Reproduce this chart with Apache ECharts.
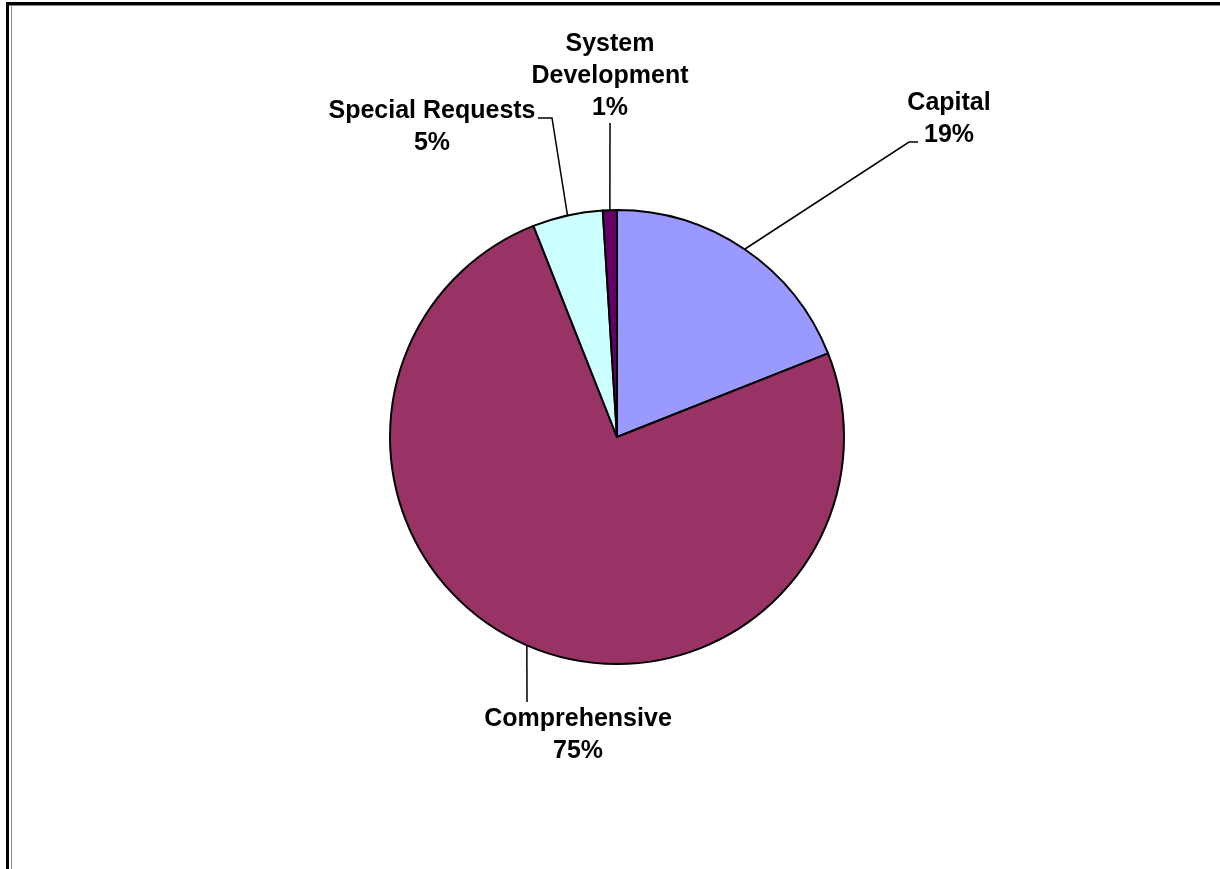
<!DOCTYPE html>
<html>
<head>
<meta charset="utf-8">
<script src="https://cdn.jsdelivr.net/npm/echarts@6/dist/echarts.min.js"></script>
<style>
html,body{margin:0;padding:0;background:#fff;}
#chart{width:1220px;height:869px;}
</style>
</head>
<body>
<div id="chart"></div>
<script>
// ---- data ----
const categories = ['Capital', 'Comprehensive', 'Special Requests', 'System Development'];
const labelNames = ['Capital', 'Comprehensive', 'Special Requests', 'System\nDevelopment'];
const values = [19, 75, 5, 1];
const colors = ['#9999FF', '#993366', '#CCFFFF', '#660066'];

// ---- label layout (positions of label blocks and leader elbows) ----
const labelPos = [
  {x: 949, y: 119, elbow: [[909, 142], [918, 142]]},
  {x: 578, y: 735, elbow: [[527, 702]]},
  {x: 432, y: 127, elbow: [[552, 118], [538, 118]]},
  {x: 610, y: 76,  elbow: [[610, 123]]}
];

const chart = echarts.init(document.getElementById('chart'), null, {renderer: 'canvas'});
const total = values.reduce((a, b) => a + b, 0);

chart.setOption({
  backgroundColor: '#ffffff',
  animation: false,
  graphic: [
    {type: 'rect', shape: {x: 6, y: 2, width: 1214, height: 3}, style: {fill: '#000'}},
    {type: 'rect', shape: {x: 6, y: 2, width: 3, height: 867}, style: {fill: '#000'}},
    {type: 'rect', shape: {x: 9, y: 5, width: 1211, height: 1}, style: {fill: '#888'}},
    {type: 'rect', shape: {x: 11, y: 5, width: 1, height: 864}, style: {fill: '#888'}}
  ],
  series: [{
    type: 'pie',
    center: [617, 437],
    radius: 227,
    startAngle: 90,
    clockwise: true,
    avoidLabelOverlap: false,
    data: categories.map((c, i) => ({name: c, value: values[i], itemStyle: {color: colors[i]}})),
    itemStyle: {borderColor: '#000', borderWidth: 2},
    emphasis: {disabled: true},
    label: {
      show: true,
      position: 'outside',
      formatter: p => labelNames[p.dataIndex] + '\n' + Math.round(p.value / total * 100) + '%',
      fontFamily: '"Liberation Sans", Arial, sans-serif',
      fontWeight: 'bold',
      fontSize: 25,
      lineHeight: 32,
      color: '#000',
      align: 'center'
    },
    labelLine: {show: true, length: 20, length2: 10, lineStyle: {color: '#000', width: 1.5}},
    labelLayout: function (params) {
      const lp = labelPos[params.dataIndex];
      const pts = params.labelLinePoints;
      const start = pts ? pts[0] : null;
      const res = {x: lp.x, y: lp.y, align: 'center', verticalAlign: 'middle'};
      if (start) res.labelLinePoints = [start].concat(lp.elbow);
      return res;
    }
  }]
});
</script>
</body>
</html>
